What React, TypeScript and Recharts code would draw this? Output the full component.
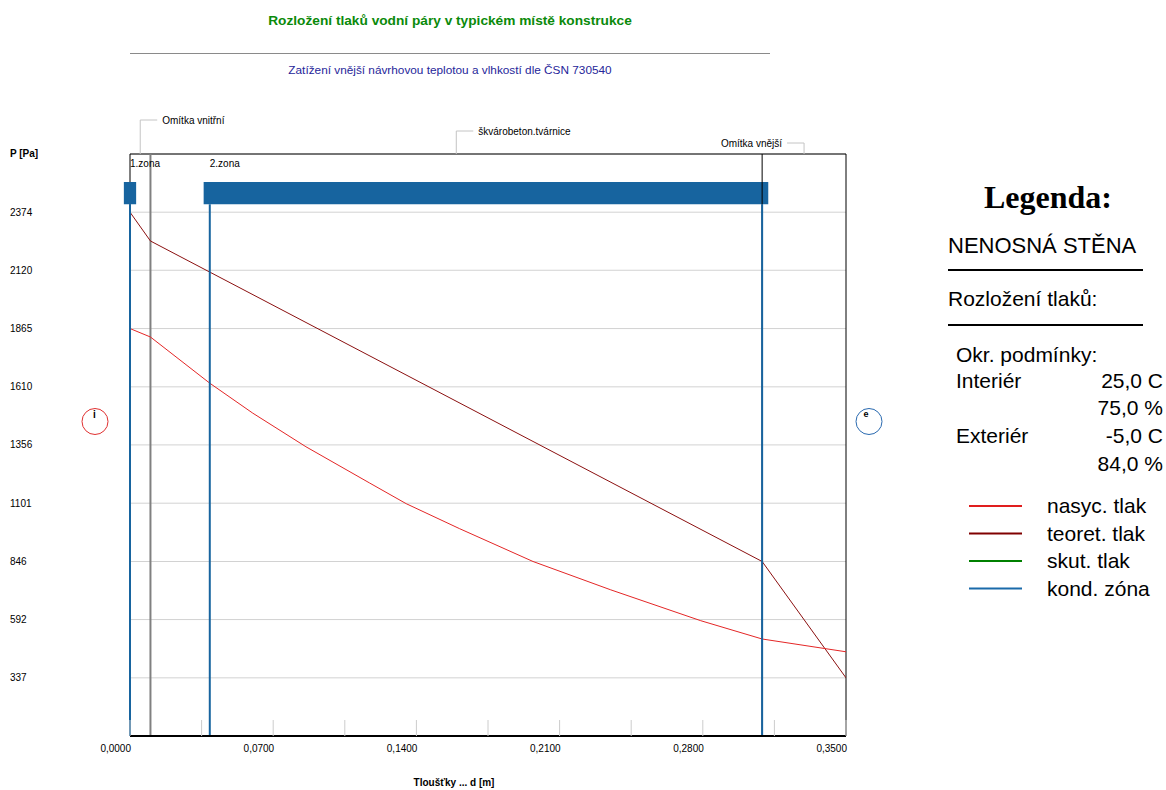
import { LineChart, Line, XAxis, YAxis, CartesianGrid, ReferenceLine, ReferenceArea } from 'recharts'

// ── data (d in metres, p in Pa) ──

const layerBounds = [0, 0.01, 0.309, 0.35]
const layerNames = ['Omítka vnitřní', 'škvárobeton.tvárnice', 'Omítka vnější']
const layerRise = [34, 23, 11]
const layerSide = ['right', 'right', 'left']

const zoneStart = [0, 0.039]
const zoneEnd = [0, 0.309]
const zoneNames = ['1.zona', '2.zona']
const zoneBand = [2409, 2506]

const xTicks = [0, 0.035, 0.07, 0.105, 0.14, 0.175, 0.21, 0.245, 0.28, 0.315, 0.35]
const yTicks = [337, 592, 846, 1101, 1356, 1610, 1865, 2120, 2374]
const yDomain = [82.6, 2628.6]

const nasycD = [0, 0.01, 0.039, 0.06, 0.086, 0.117, 0.135, 0.161, 0.197, 0.235, 0.279, 0.309, 0.35]
const nasycP = [1865, 1828, 1626, 1495, 1348, 1190, 1099, 990, 846, 722, 587, 507, 451]

const teoretD = [0, 0.01, 0.309, 0.35]
const teoretP = [2374, 2248, 846, 337]

const nasycData = nasycD.map((d, i) => ({ d, p: nasycP[i] }))
const teoretData = teoretD.map((d, i) => ({ d, p: teoretP[i] }))

const legendItems = [
  { label: 'nasyc. tlak', color: '#e01e1e' },
  { label: 'teoret. tlak', color: '#800000' },
  { label: 'skut. tlak', color: '#008000' },
  { label: 'kond. zóna', color: '#1a6aaa' },
]

const BLUE = '#17649f'
const FONT = '"Liberation Sans", Arial, sans-serif'

const fmt = (v: number) => v.toFixed(4).replace('.', ',')

function XTick(props: any) {
  const { x, y, payload } = props
  const labelled = Math.round(payload.value / 0.035) % 2 === 0
  return (
    <g>
      <line x1={x} x2={x} y1={y} y2={y - 16} stroke="#cccccc" />
      {labelled && (
        <text x={x + 1} y={y + 16} textAnchor="end" fontSize={10} fontFamily={FONT} fill="#000">
          {fmt(payload.value)}
        </text>
      )}
    </g>
  )
}

function YTick(props: any) {
  const { y, payload } = props
  return (
    <text x={10} y={y} dy="0.35em" textAnchor="start" fontSize={10} fontFamily={FONT} fill="#000">
      {payload.value}
    </text>
  )
}

function layerTag(i: number) {
  return (p: any) => {
    const top = Math.min(p.y1, p.y2)
    const x = p.x1
    const ty = top - layerRise[i]
    const right = layerSide[i] === 'right'
    const hx = right ? x + 17 : x - 17
    return (
      <g>
        <polyline points={`${x},${top} ${x},${ty} ${hx},${ty}`} fill="none" stroke="#c4c4c4" />
        <text
          x={right ? hx + 5 : hx - 5}
          y={ty}
          dy="0.35em"
          textAnchor={right ? 'start' : 'end'}
          fontSize={10}
          fontFamily={FONT}
          fill="#000"
        >
          {layerNames[i]}
        </text>
      </g>
    )
  }
}

function zoneTag(i: number) {
  return (p: any) => {
    const top = Math.min(p.y1, p.y2)
    return (
      <text x={p.x1} y={top + 9} dy="0.35em" fontSize={10} fontFamily={FONT} fill="#000">
        {zoneNames[i]}
      </text>
    )
  }
}

export default function App() {
  return (
    <div style={{ position: 'absolute', left: 0, top: 0, width: 1166, height: 790, background: '#fff', fontFamily: FONT }}>
      <LineChart width={1166} height={790} margin={{ top: 154, right: 320, bottom: 0, left: 0 }}>
        <CartesianGrid vertical={false} stroke="#d2d2d2" />
        <XAxis
          type="number"
          dataKey="d"
          domain={[0, 0.35]}
          ticks={xTicks}
          height={54}
          tickSize={0}
          tickMargin={0}
          tick={<XTick />}
          axisLine={{ stroke: '#000', strokeWidth: 2 }}
          interval={0}
          allowDataOverflow
        />
        <YAxis
          type="number"
          dataKey="p"
          domain={yDomain}
          ticks={yTicks}
          width={130}
          tick={<YTick />}
          tickLine={false}
          axisLine={false}
          interval={0}
          allowDataOverflow
        />
        <ReferenceArea x1={0} x2={0.35} y1={yDomain[0]} y2={yDomain[1]} fill="none" stroke="#000" />

        <ReferenceLine x={layerBounds[1]} stroke="#808080" strokeWidth={2} />
        <ReferenceLine x={layerBounds[2]} stroke="#000" />

        {layerNames.map((n, i) => (
          <ReferenceLine
            key={n}
            x={(layerBounds[i] + layerBounds[i + 1]) / 2}
            shape={layerTag(i)}
            ifOverflow="visible"
          />
        ))}

        <Line data={teoretData} dataKey="p" type="linear" stroke="#8b1010" strokeWidth={1} dot={false} isAnimationActive={false} />
        <Line data={nasycData} dataKey="p" type="linear" stroke="#e42626" strokeWidth={1} dot={false} isAnimationActive={false} />

        {zoneNames.map((n, i) => (
          <ReferenceArea
            key={`band-${n}`}
            x1={zoneStart[i] - 0.003}
            x2={zoneEnd[i] + 0.003}
            y1={zoneBand[0]}
            y2={zoneBand[1]}
            fill={BLUE}
            fillOpacity={1}
            ifOverflow="visible"
          />
        ))}
        {[...zoneStart, zoneEnd[1]].map((z, i) => (
          <ReferenceLine
            key={`zl-${i}`}
            segment={[{ x: z, y: zoneBand[0] }, { x: z, y: yDomain[0] }]}
            stroke={BLUE}
            strokeWidth={2}
            ifOverflow="visible"
          />
        ))}
        {zoneNames.map((n, i) => (
          <ReferenceLine key={`zt-${n}`} x={zoneStart[i]} shape={zoneTag(i)} ifOverflow="visible" />
        ))}
      </LineChart>

      <svg width={1166} height={790} style={{ position: 'absolute', left: 0, top: 0, pointerEvents: 'none' }}>
        <text x={450} y={25} textAnchor="middle" fontSize={13.7} fontWeight="bold" fill="#0a8a0a" fontFamily={FONT}>
          Rozložení tlaků vodní páry v typickém místě konstrukce
        </text>
        <line x1={130} x2={770} y1={53.5} y2={53.5} stroke="#8a8a8a" />
        <text x={450} y={74} textAnchor="middle" fontSize={11.8} fill="#26269a" fontFamily={FONT}>
          Zatížení vnější návrhovou teplotou a vlhkostí dle ČSN 730540
        </text>

        <text x={10} y={157} fontSize={10} fontWeight="bold" fill="#000" fontFamily={FONT}>P [Pa]</text>
        <text x={454} y={786} textAnchor="middle" fontSize={10} fontWeight="bold" fill="#000" fontFamily={FONT}>
          Tloušťky ... d [m]
        </text>

        <ellipse cx={95} cy={421.5} rx={13} ry={13} fill="none" stroke="#e03030" />
        <text x={94.5} y={418} textAnchor="middle" fontSize={10} fontWeight="bold" fill="#000" fontFamily={FONT}>i</text>
        <ellipse cx={869} cy={421.5} rx={13} ry={13} fill="none" stroke="#2a6ab0" />
        <text x={866} y={417} textAnchor="middle" fontSize={9} fontWeight="bold" fill="#000" fontFamily={FONT}>e</text>

        <text x={1048} y={208} textAnchor="middle" fontSize={32} fontWeight="bold" fill="#000" fontFamily='"Liberation Serif", "Times New Roman", serif'>
          Legenda:
        </text>
        <text x={948} y={253} fontSize={22} fill="#000" fontFamily={FONT}>NENOSNÁ STĚNA</text>
        <line x1={948} x2={1143} y1={270} y2={270} stroke="#000" strokeWidth={2} />
        <text x={948} y={306} fontSize={21} fill="#000" fontFamily={FONT}>Rozložení tlaků:</text>
        <line x1={948} x2={1143} y1={325} y2={325} stroke="#000" strokeWidth={2} />
        <text x={956} y={362} fontSize={21} fill="#000" fontFamily={FONT}>Okr. podmínky:</text>
        <text x={956} y={388} fontSize={21} fill="#000" fontFamily={FONT}>Interiér</text>
        <text x={1163} y={388} textAnchor="end" fontSize={21} fill="#000" fontFamily={FONT}>25,0 C</text>
        <text x={1163} y={415} textAnchor="end" fontSize={21} fill="#000" fontFamily={FONT}>75,0 %</text>
        <text x={956} y={443} fontSize={21} fill="#000" fontFamily={FONT}>Exteriér</text>
        <text x={1163} y={443} textAnchor="end" fontSize={21} fill="#000" fontFamily={FONT}>-5,0 C</text>
        <text x={1163} y={471} textAnchor="end" fontSize={21} fill="#000" fontFamily={FONT}>84,0 %</text>
        {legendItems.map((it, i) => (
          <g key={it.label}>
            <line x1={969} x2={1022} y1={506 + i * 27.5} y2={506 + i * 27.5} stroke={it.color} strokeWidth={2} />
            <text x={1047} y={513 + i * 27.5} fontSize={21} fill="#000" fontFamily={FONT}>{it.label}</text>
          </g>
        ))}
      </svg>
    </div>
  )
}
